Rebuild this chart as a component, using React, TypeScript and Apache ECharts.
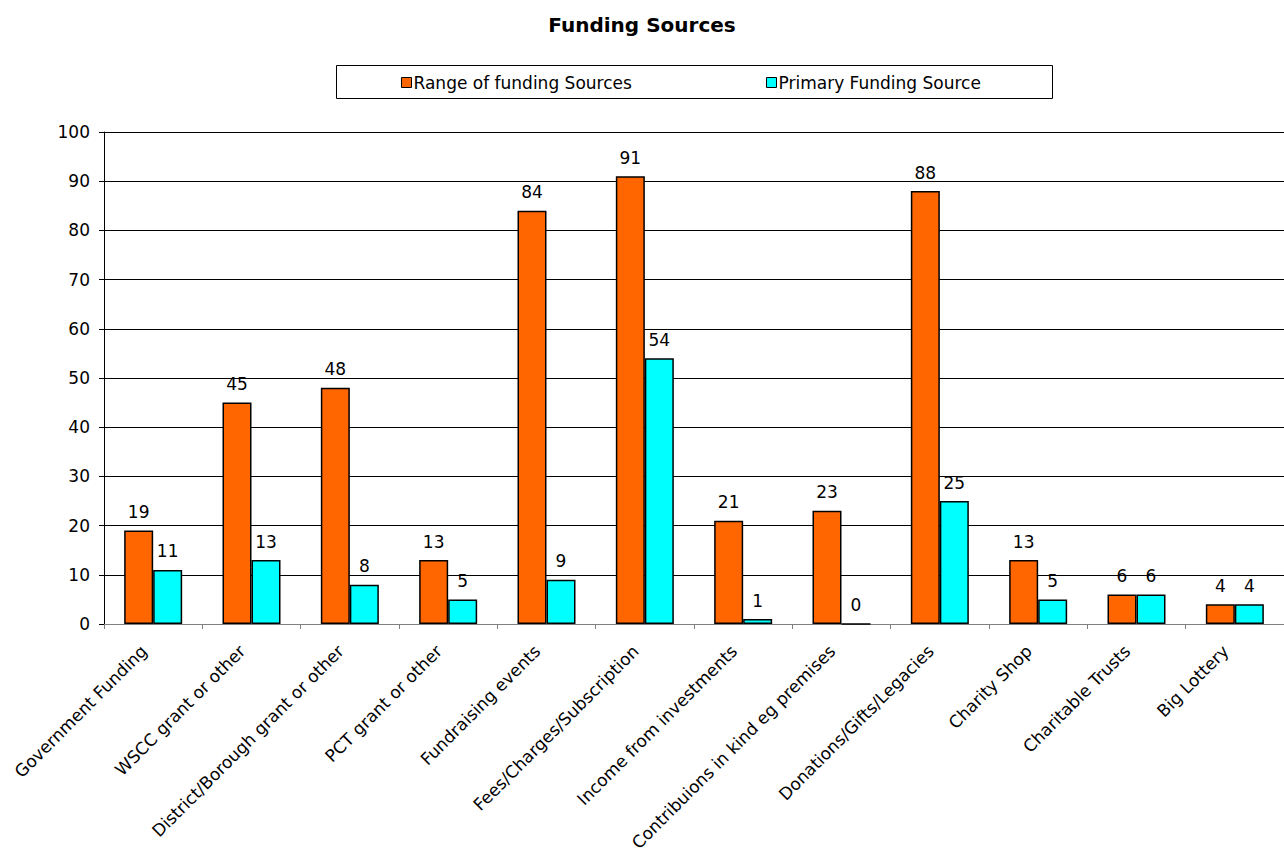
import React, { useEffect, useRef } from "react";
import * as echarts from "echarts";

const categories = [
  "Government Funding",
  "WSCC grant or other",
  "District/Borough grant or other",
  "PCT grant or other",
  "Fundraising events",
  "Fees/Charges/Subscription",
  "Income from investments",
  "Contribuions in kind eg premises",
  "Donations/Gifts/Legacies",
  "Charity Shop",
  "Charitable Trusts",
  "Big Lottery",
];
const rangeValues = [19, 45, 48, 13, 84, 91, 21, 23, 88, 13, 6, 4];
const primaryValues = [11, 13, 8, 5, 9, 54, 1, 0, 25, 5, 6, 4];
const seriesNames = ["Range of funding Sources", "Primary Funding Source"];

const FONT = "'DejaVu Sans', 'Liberation Sans', Arial, sans-serif";

export default function App() {
  const ref = useRef<HTMLDivElement>(null);
  useEffect(() => {
    if (!ref.current) return;
    const chart = echarts.init(ref.current, undefined, { renderer: "svg" });
    const labelStyle = {
      show: true,
      position: "top",
      distance: 10,
      color: "#000",
      fontSize: 17,
      fontFamily: FONT,
    };
    const legendBase = {
      top: 74,
      icon: "rect",
      itemWidth: 10,
      itemHeight: 10,
      itemGap: 4,
      padding: 0,
      itemStyle: { borderColor: "#000", borderWidth: 1 },
      textStyle: { fontSize: 17, color: "#000", fontFamily: FONT, padding: [0, 0, 0, -3] },
    };
    chart.setOption({
      animation: false,
      backgroundColor: "#fff",
      textStyle: { fontFamily: FONT },
      title: {
        text: "Funding Sources",
        left: "center",
        top: 10,
        textStyle: { fontSize: 20, fontWeight: "bold", color: "#000", fontFamily: FONT },
      },
      graphic: [
        {
          type: "rect",
          shape: { x: 336.5, y: 65.5, width: 716, height: 33 },
          style: { fill: "#fff", stroke: "#000", lineWidth: 1 },
          z: -1,
        },
      ],
      legend: [
        { ...legendBase, data: [seriesNames[0]], left: 401 },
        { ...legendBase, data: [seriesNames[1]], left: 766 },
      ],
      grid: {
        left: 104,
        right: 0,
        top: 132,
        bottom: 231,
        containLabel: false,
        outerBoundsMode: "none",
      },
      xAxis: {
        type: "category",
        data: categories,
        axisLine: { lineStyle: { color: "#808080", width: 1 } },
        axisTick: { show: true, length: 5, lineStyle: { color: "#808080" } },
        axisLabel: {
          rotate: 45,
          interval: 0,
          fontSize: 17,
          color: "#000",
          fontFamily: FONT,
          margin: 15,
          padding: [0, 13, 0, 0],
        },
      },
      yAxis: {
        type: "value",
        min: 0,
        max: 100,
        interval: 10,
        axisLine: { show: true, lineStyle: { color: "#000", width: 1 } },
        axisTick: { show: true, length: 5, lineStyle: { color: "#000" } },
        axisLabel: { fontSize: 17, color: "#000", fontFamily: FONT, margin: 14 },
        splitLine: { show: true, lineStyle: { color: "#000", width: 1 } },
      },
      series: [
        {
          name: seriesNames[0],
          type: "bar",
          data: rangeValues,
          barWidth: 29,
          barGap: "0%",
          itemStyle: { color: "#FF6600", borderColor: "#000", borderWidth: 1.5 },
          label: labelStyle,
        },
        {
          name: seriesNames[1],
          type: "bar",
          data: primaryValues,
          barWidth: 29,
          itemStyle: { color: "#00FFFF", borderColor: "#000", borderWidth: 1.5 },
          label: labelStyle,
        },
      ],
    });
    return () => chart.dispose();
  }, []);
  return (
    <div
      ref={ref}
      style={{ position: "fixed", left: 0, top: 0, width: 1284, height: 855 }}
    />
  );
}
